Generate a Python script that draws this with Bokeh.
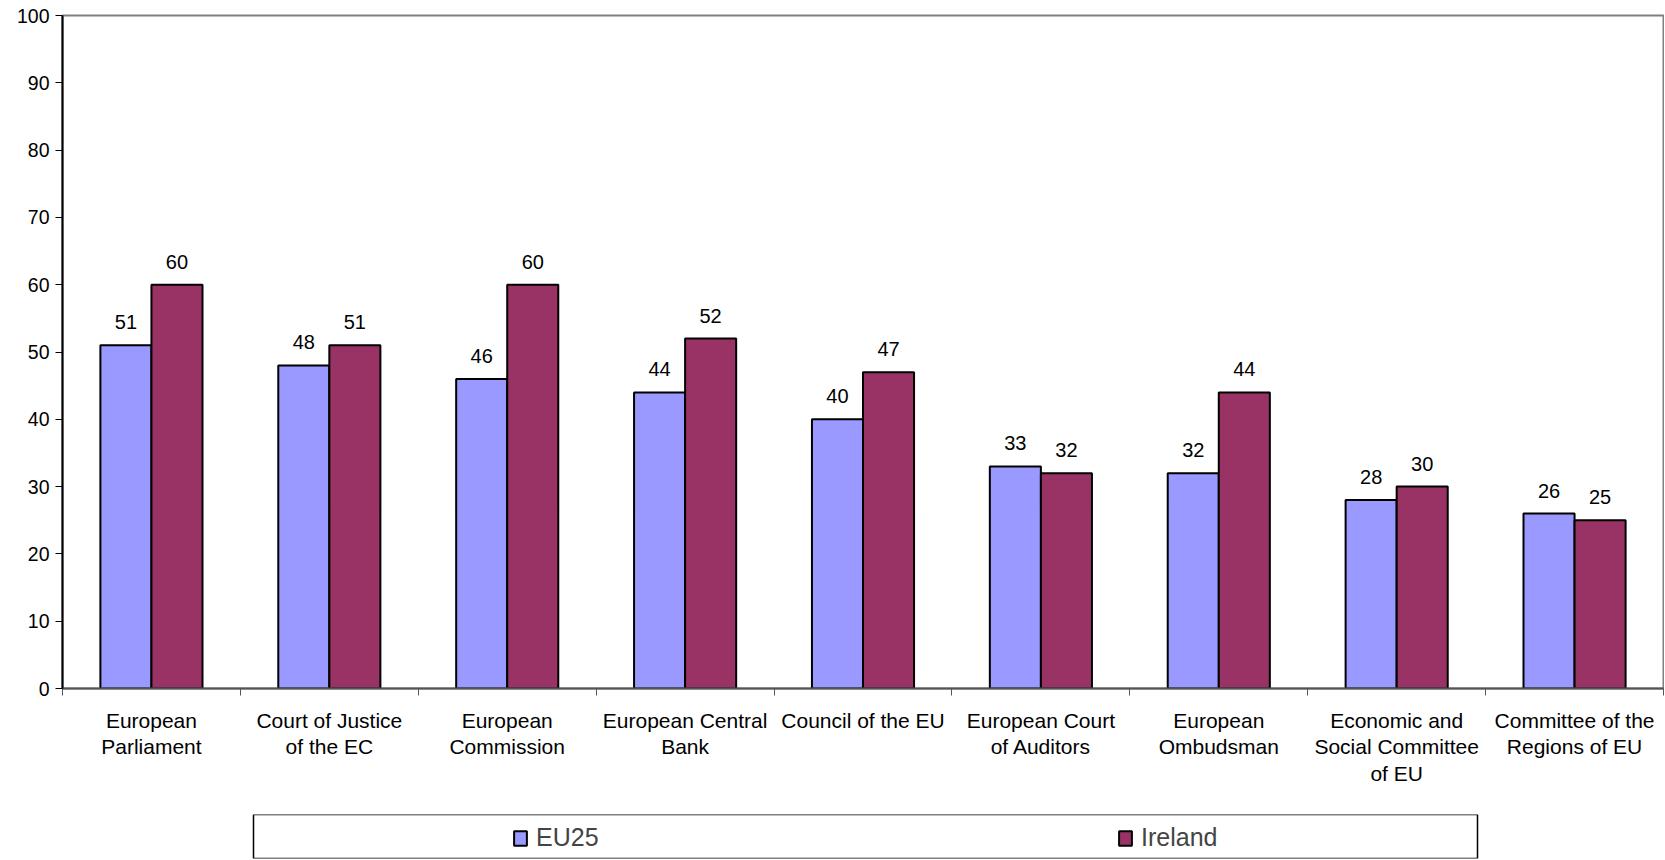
from bokeh.plotting import figure
from bokeh.models import (ColumnDataSource, Range1d, FixedTicker, Legend, LegendItem,
                          LabelSet, BoxAnnotation)
from bokeh.layouts import column
from bokeh.transform import dodge
from bokeh.core.properties import value
from bokeh.embed import file_html
from bokeh.resources import INLINE

categories = ["European\nParliament", "Court of Justice\nof the EC", "European\nCommission",
              "European Central\nBank", "Council of the EU", "European Court\nof Auditors",
              "European\nOmbudsman", "Economic and\nSocial Committee\nof EU",
              "Committee of the\nRegions of EU"]
eu25 = [51, 48, 46, 44, 40, 33, 32, 28, 26]
ireland = [60, 51, 60, 52, 47, 32, 44, 30, 25]
y_ticks = [0, 10, 20, 30, 40, 50, 60, 70, 80, 90, 100]
series_names = ["EU25", "Ireland"]
series_colors = ["#9999FF", "#993366"]

FONT = "Liberation Sans"
W, LEFT, RIGHT = 1664, 62, 1
FW = W - LEFT - RIGHT
pos = [i + 0.5 for i in range(len(categories))]
src = ColumnDataSource(dict(x=pos, eu25=eu25, ireland=ireland,
                            eu25_s=[str(v) for v in eu25],
                            ireland_s=[str(v) for v in ireland]))

p = figure(width=W, height=813, output_backend="svg", toolbar_location=None,
           x_range=Range1d(0, len(categories)), y_range=Range1d(0, 100),
           min_border_left=LEFT, min_border_right=RIGHT, min_border_top=15, min_border_bottom=125)
p.xgrid.visible = False
p.ygrid.visible = False
p.outline_line_color = "#808080"
p.outline_line_width = 2
p.background_fill_color = "white"

bw = 0.287
p.vbar(x=dodge("x", -bw / 2, range=p.x_range), top="eu25", width=bw, bottom=0, source=src,
       fill_color=series_colors[0], line_color="black", line_width=2)
p.vbar(x=dodge("x", bw / 2, range=p.x_range), top="ireland", width=bw, bottom=0, source=src,
       fill_color=series_colors[1], line_color="black", line_width=2)

for col, off in (("eu25", -bw / 2), ("ireland", bw / 2)):
    lbl = LabelSet(x=dodge("x", off, range=p.x_range), y=col, text=col + "_s", source=src,
                   text_align="center", text_baseline="middle", y_offset=23,
                   text_font=value(FONT), text_font_size=value("20px"),
                   text_color="black")
    p.add_layout(lbl)

# x axis
p.xaxis.ticker = FixedTicker(ticks=pos, minor_ticks=list(range(len(categories) + 1)))
p.xaxis.major_label_overrides = {x: c for x, c in zip(pos, categories)}
p.xaxis.major_tick_line_color = None
p.xaxis.minor_tick_out = 7
p.xaxis.minor_tick_in = 0
p.xaxis.minor_tick_line_color = "#555555"
p.xaxis.minor_tick_line_width = 1
p.xaxis.axis_line_color = "#555555"
p.xaxis.axis_line_width = 2
p.xaxis.major_label_text_font = FONT
p.xaxis.major_label_text_font_size = "21px"
p.xaxis.major_label_text_color = "black"
p.xaxis.major_label_standoff = 13
p.xaxis.major_label_text_line_height = 1.17

# y axis
p.yaxis.ticker = FixedTicker(ticks=y_ticks, minor_ticks=[])
p.yaxis.major_tick_out = 7
p.yaxis.major_tick_in = 0
p.yaxis.major_tick_line_color = "black"
p.yaxis.axis_line_color = "black"
p.yaxis.axis_line_width = 2
p.yaxis.major_label_text_font = FONT
p.yaxis.major_label_text_font_size = "19.5px"
p.yaxis.major_label_text_color = "black"
p.yaxis.major_label_standoff = 6

# legend strip (same borders as the chart so the column keeps both frames aligned)
LH = 44
lg = figure(width=W, height=LH + 2, output_backend="svg", toolbar_location=None,
            x_range=Range1d(0, FW), y_range=Range1d(0, LH),
            min_border_left=LEFT, min_border_right=RIGHT, min_border_top=1, min_border_bottom=1)
lg.xaxis.visible = False
lg.yaxis.visible = False
lg.xgrid.visible = False
lg.ygrid.visible = False
lg.outline_line_color = None
lg.add_layout(BoxAnnotation(left=191, right=1415, fill_alpha=0, line_color="black",
                            line_alpha=1, line_width=1.5))
nan = float("nan")
renderers = [lg.vbar(x=[nan], top=[nan], bottom=[nan], width=1, fill_color=c,
                     line_color="black", line_width=2)
             for c in series_colors]
legend = Legend(items=[LegendItem(label=n, renderers=[r]) for n, r in zip(series_names, renderers)],
                orientation="horizontal", location=(450, 6),
                label_text_font=FONT, label_text_font_size="25px",
                glyph_width=16, glyph_height=18, label_standoff=8,
                padding=0, spacing=518, margin=0, label_width=63,
                border_line_color=None, background_fill_alpha=0)
lg.add_layout(legend, "center")

open("out.html", "w").write(file_html(column(p, lg), INLINE))
